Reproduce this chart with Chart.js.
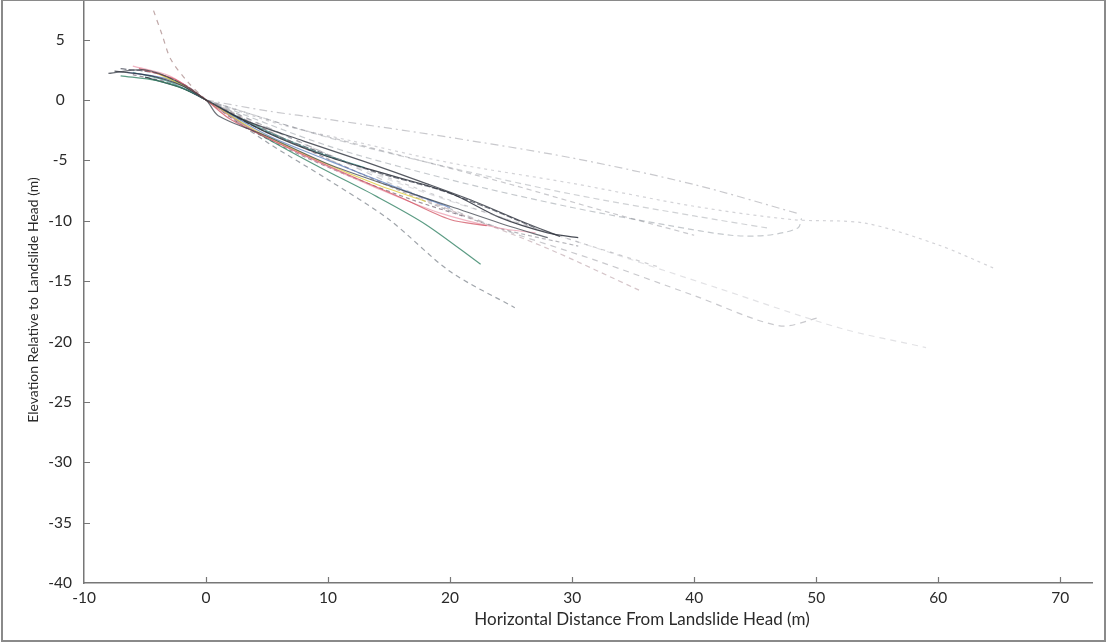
<!DOCTYPE html>
<html>
<head>
<meta charset="utf-8">
<script src="https://cdn.jsdelivr.net/npm/chart.js@4"></script>
<style>
  html, body { margin: 0; padding: 0; background: #fff; }
  #wrap { width: 1107px; height: 644px; }
</style>
</head>
<body>
<div id="wrap"><canvas id="profileChart" width="1107" height="644"></canvas></div>
<script>
// survey profiles, [distance from head (m), elevation rel. to head (m)]
const profileA = [[-7.5, 2.4], [-4.5, 2.0], [-2, 1.2], [0, 0], [3, -1.6], [8, -3.4], [13, -5.1], [18, -6.9], [22, -8.4], [26, -10.1], [29, -11.3]];
const profileB = [[-8, 2.2], [-5, 2.5], [-2.5, 1.6], [0, 0], [1, -1.3], [5, -3.0], [10, -5.3], [15, -7.1], [20, -8.8], [25, -10.5], [28, -11.4]];
const profileC = [[-5.5, 2.6], [-2.5, 1.7], [0, 0], [2, -1.6], [6, -3.6], [11, -5.9], [16, -8.1], [20, -9.9], [23, -10.4]];
const profileD = [[-6, 2.8], [-3, 2.0], [0, 0], [3, -2.0], [8, -4.6], [14, -7.3], [19, -9.3], [24, -10.6], [27, -11.0]];
const profileE = [[-4, 2.2], [-1.5, 1.0], [0, 0], [4, -2.5], [9, -4.9], [14, -7.0], [18, -8.4]];
const profileF = [[-6.5, 2.3], [-3, 1.7], [0, 0], [5, -2.9], [10, -5.0], [16, -7.4], [20, -8.9]];
const profileG = [[-7, 2.0], [-4, 1.6], [-1.5, 0.8], [0, 0], [4, -2.6], [9, -5.4], [14, -8.0], [18, -10.3], [22.5, -13.6]];
const profileH = [[0, 0], [5, -3.5], [10, -6.6], [15, -9.9], [20, -14.2], [25.3, -17.2]];
const profileI = [[-4.3, 7.4], [-3.6, 5.4], [-2.9, 3.4], [-1.5, 1.5], [0, 0]];
const profileJ = [[0, 0], [5, -0.9], [10, -1.6], [20, -3.1], [30, -4.8], [40, -7.0], [48.5, -9.4]];
const profileK = [[0, 0], [6, -2.0], [12, -3.4], [20, -5.2], [30, -6.9], [40, -8.8], [48, -9.9], [54, -10.2], [60, -12.0], [64.5, -13.9]];
const profileL = [[0, 0], [10, -3.8], [20, -6.6], [30, -8.9], [38, -10.4], [43, -11.2], [46, -11.2], [48.5, -10.6], [48.8, -9.8]];
const profileM = [[0, 0], [8, -3.6], [16, -7.3], [24, -10.6], [32, -13.3], [40, -16.2], [47, -18.7], [50.3, -18.0]];
const profileN = [[0, 0], [10, -4.9], [20, -9.1], [28, -12.3], [35.6, -15.8]];
const profileO = [[0, 0], [10, -4.5], [20, -8.3], [30, -11.6], [37, -13.8]];
const profileP = [[0, 0], [15, -6.6], [30, -11.6], [42, -15.6], [52, -18.9], [59, -20.5]];
const profileQ = [[0, 0], [10, -3.1], [20, -5.6], [30, -7.8], [40, -9.6], [46, -10.6]];
const profileS = [[-5, 1.9], [-2, 1.0], [0, 0], [5, -2.7], [10, -4.7], [15, -6.2], [20, -7.7], [24, -9.7], [28, -11.0], [30.5, -11.4]];
const profileT = [[0, 0], [6, -3.0], [12, -5.8], [18, -8.4], [24, -10.6], [30.5, -12.1]];
const profileU = [[-6, 2.3], [-3, 1.5], [0, 0], [4, -2.1], [9, -4.3], [13, -5.6]];
const profileV = [[0, 0], [8, -2.5], [16, -4.6], [25, -7.0], [33, -9.3], [40, -11.2]];
const profileW = [[-7, 2.6], [-4, 2.2], [-1.5, 1.1], [0, 0], [4, -2.2], [9, -4.2], [14, -6.0], [19, -7.4], [23, -8.9], [27, -10.6]];
const profileX = [[-6, 2.1], [-3, 1.4], [0, 0], [3, -2.1], [7, -4.2], [12, -6.4], [17, -8.3], [21, -9.6]];

const profiles = [profileA, profileB, profileC, profileD, profileE, profileF, profileG, profileH, profileI, profileJ,
                  profileK, profileL, profileM, profileN, profileO, profileP, profileQ, profileS, profileT, profileU,
                  profileV, profileW, profileX];

const xTicks = [-10, 0, 10, 20, 30, 40, 50, 60, 70];
const yTicks = [5, 0, -5, -10, -15, -20, -25, -30, -35, -40];

// line looks, same order as profiles
const lineColors = [
  'rgba(45,50,60,0.8)', 'rgba(60,65,75,0.75)', 'rgba(205,70,85,0.7)', 'rgba(235,150,170,0.7)',
  'rgba(225,205,60,0.8)', 'rgba(80,120,190,0.7)', 'rgba(50,130,100,0.8)', 'rgba(80,90,100,0.55)',
  'rgba(150,110,110,0.6)', 'rgba(120,120,130,0.4)', 'rgba(130,130,140,0.35)', 'rgba(110,120,130,0.4)',
  'rgba(120,120,130,0.4)', 'rgba(150,110,120,0.4)', 'rgba(120,120,130,0.35)', 'rgba(150,150,160,0.28)',
  'rgba(120,125,135,0.35)', 'rgba(40,45,55,0.85)', 'rgba(110,110,120,0.5)', 'rgba(60,150,140,0.7)',
  'rgba(120,120,130,0.4)', 'rgba(55,60,75,0.7)', 'rgba(90,70,90,0.6)'
];
const lineDashes = [
  [], [], [], [], [], [], [], [5, 4], [5, 5], [8, 4, 2, 4], [3, 4], [6, 4], [6, 5], [5, 4], [4, 5], [6, 5],
  [6, 4], [], [4, 3], [], [5, 4], [6, 2], [4, 3]
];

const FONT = 'Lato, "Open Sans", sans-serif';

const datasets = profiles.map((p, i) => ({
  data: p.map(([x, y]) => ({ x, y })),
  showLine: true,
  borderColor: lineColors[i],
  borderWidth: 1.2,
  borderDash: lineDashes[i],
  pointRadius: 0,
  fill: false,
  tension: 0.3
}));

// inward tick marks, axis titles and the outer frame
const decorations = {
  id: 'decorations',
  afterDraw(chart) {
    const { ctx, chartArea, scales } = chart;
    ctx.save();
    ctx.strokeStyle = '#777';
    ctx.lineWidth = 1.2;
    ctx.beginPath();
    xTicks.forEach(v => {
      const px = Math.round(scales.x.getPixelForValue(v)) + 0.5;
      if (v === -10) return;
      ctx.moveTo(px, chartArea.bottom);
      ctx.lineTo(px, chartArea.bottom - 6);
    });
    yTicks.forEach(v => {
      const py = Math.round(scales.y.getPixelForValue(v)) + 0.5;
      if (v === -40) return;
      ctx.moveTo(chartArea.left, py);
      ctx.lineTo(chartArea.left + 6, py);
    });
    ctx.stroke();

    ctx.fillStyle = '#2a2a2a';
    ctx.textAlign = 'center';
    ctx.textBaseline = 'middle';
    ctx.font = '17px ' + FONT;
    ctx.fillText('Horizontal Distance From Landslide Head (m)', 642, 620);
    ctx.font = '14px ' + FONT;
    ctx.translate(33, 300);
    ctx.rotate(-Math.PI / 2);
    ctx.fillText('Elevation Relative to Landslide Head (m)', 0, 0);
    ctx.restore();

    ctx.save();
    ctx.strokeStyle = '#8a8a8a';
    ctx.lineWidth = 2;
    ctx.strokeRect(2, 0, 1103, 641);
    ctx.restore();
  }
};

new Chart(document.getElementById('profileChart'), {
  type: 'scatter',
  data: { datasets },
  options: {
    responsive: false,
    animation: false,
    layout: { padding: { top: 1, right: 15, bottom: 0, left: 0 } },
    plugins: { legend: { display: false }, tooltip: { enabled: false } },
    scales: {
      x: {
        type: 'linear',
        min: -10,
        max: 72.6,
        afterFit(scale) { scale.height = 61; scale.paddingLeft = 0; scale.paddingRight = 0; },
        afterBuildTicks(scale) { scale.ticks = xTicks.map(v => ({ value: v })); },
        grid: { display: true, drawOnChartArea: false, drawTicks: false },
        border: { display: true, color: '#777', width: 1.5 },
        ticks: { padding: 6, color: '#2a2a2a', font: { family: FONT, size: 15.5 } }
      },
      y: {
        type: 'linear',
        min: -40,
        max: 8.2,
        afterFit(scale) { scale.width = 84; scale.paddingTop = 0; scale.paddingBottom = 0; },
        afterBuildTicks(scale) { scale.ticks = yTicks.map(v => ({ value: v })); },
        grid: { display: true, drawOnChartArea: false, drawTicks: false },
        border: { display: true, color: '#777', width: 1.5 },
        ticks: { padding: 12, crossAlign: 'center', color: '#2a2a2a', font: { family: FONT, size: 15.5 } }
      }
    }
  },
  plugins: [decorations]
});
</script>
</body>
</html>
